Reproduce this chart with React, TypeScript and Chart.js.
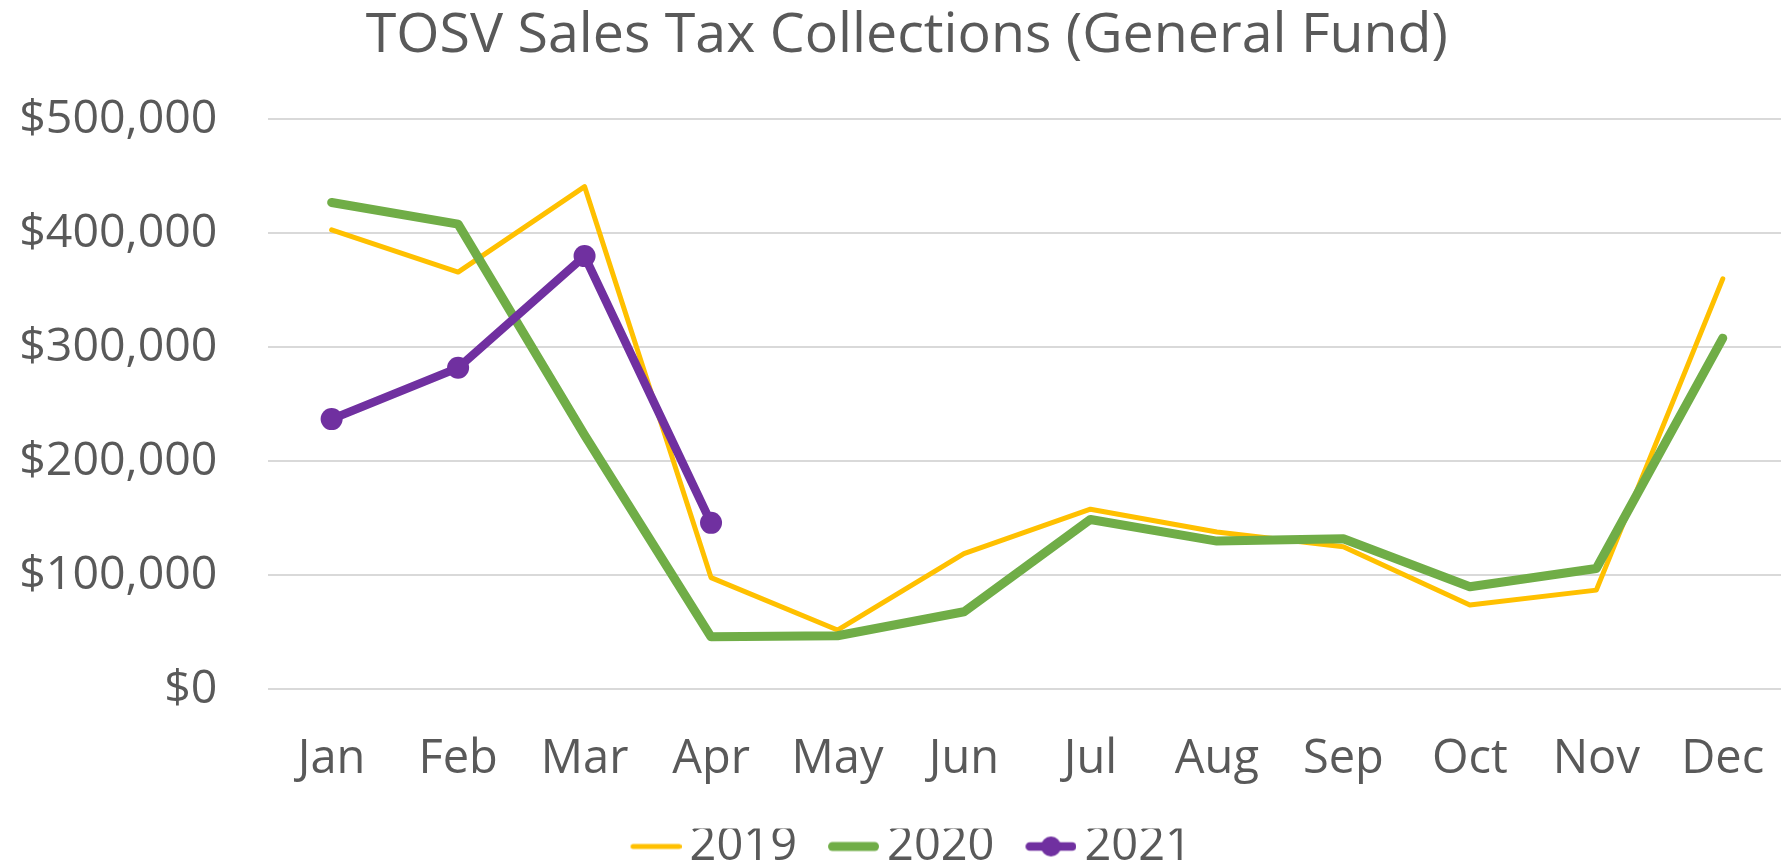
import React, { useEffect, useRef } from "react";
import { Chart, registerables } from "chart.js";

Chart.register(...registerables);

const months = ["Jan", "Feb", "Mar", "Apr", "May", "Jun", "Jul", "Aug", "Sep", "Oct", "Nov", "Dec"];
const seriesNames = ["2019", "2020", "2021"];
const sales2019 = [403000, 366000, 441000, 98000, 52000, 119000, 158000, 138000, 125000, 74000, 87000, 360000];
const sales2020 = [427000, 408000, 223000, 46000, 47000, 68000, 149000, 130000, 132000, 90000, 106000, 308000];
const sales2021 = [237000, 282000, 380000, 146000, null, null, null, null, null, null, null, null];
const yTickValues = [0, 100000, 200000, 300000, 400000, 500000];
const titleText = "TOSV Sales Tax Collections (General Fund)";

const YELLOW = "#FFC000";
const GREEN = "#70AD47";
const PURPLE = "#7030A0";
const TEXT = "#595959";
const FONT = "'Open Sans', sans-serif";

const LEGEND_BOX = 72;

function makeSample(color: string, lw: number, marker: boolean) {
  const c = document.createElement("canvas");
  c.width = 103;
  c.height = 26;
  const ctx = c.getContext("2d")!;
  ctx.strokeStyle = color;
  ctx.lineWidth = lw;
  ctx.lineCap = "round";
  ctx.beginPath();
  ctx.moveTo(52 + lw / 2, 13);
  ctx.lineTo(103 - lw / 2, 13);
  ctx.stroke();
  if (marker) {
    ctx.fillStyle = color;
    ctx.beginPath();
    ctx.arc((52 + 103) / 2, 13, 10, 0, Math.PI * 2);
    ctx.fill();
  }
  return c;
}

export default function App() {
  const ref = useRef<HTMLCanvasElement | null>(null);

  useEffect(() => {
    if (!ref.current) return;
    const samples = [makeSample(YELLOW, 5, false), makeSample(GREEN, 9, false), makeSample(PURPLE, 8.5, true)];
    const chart = new Chart(ref.current, {
      type: "line",
      data: {
        labels: months,
        datasets: [
          {
            label: seriesNames[0],
            data: sales2019,
            borderColor: YELLOW,
            backgroundColor: YELLOW,
            borderWidth: 5,
            pointRadius: 0,
            borderCapStyle: "round",
            borderJoinStyle: "round",
            order: 3,
          },
          {
            label: seriesNames[1],
            data: sales2020,
            borderColor: GREEN,
            backgroundColor: GREEN,
            borderWidth: 9,
            pointRadius: 0,
            borderCapStyle: "round",
            borderJoinStyle: "round",
            order: 2,
          },
          {
            label: seriesNames[2],
            data: sales2021,
            borderColor: PURPLE,
            backgroundColor: PURPLE,
            borderWidth: 8.5,
            pointRadius: 11,
            pointBorderWidth: 0,
            pointBackgroundColor: PURPLE,
            borderCapStyle: "round",
            borderJoinStyle: "round",
            spanGaps: false,
            order: 1,
          },
        ],
      },
      options: {
        responsive: false,
        animation: false,
        devicePixelRatio: 1,
        events: [],
        layout: { autoPadding: false, padding: { left: 0, right: 0, top: 0, bottom: 0 } },
        plugins: {
          tooltip: { enabled: false },
          title: {
            display: true,
            text: "\u2002" + titleText,
            color: TEXT,
            font: { family: FONT, size: 55.5, weight: "normal", lineHeight: 1.2 },
            padding: { top: 3, bottom: 49.7 },
          },
          legend: {
            display: true,
            position: "bottom",
            labels: {
              color: TEXT,
              font: { family: FONT, size: 47 },
              usePointStyle: true,
              pointStyleWidth: LEGEND_BOX,
              padding: -5.5,
              generateLabels: () =>
                seriesNames.map((name, i) => ({
                  text: name,
                  fillStyle: "rgba(0,0,0,0)",
                  strokeStyle: "rgba(0,0,0,0)",
                  lineWidth: 0,
                  pointStyle: samples[i] as any,
                  hidden: false,
                  datasetIndex: i,
                  fontColor: TEXT,
                })),
            },
          },
        },
        scales: {
          x: {
            offset: true,
            grid: { display: false, drawTicks: false },
            border: { display: false },
            ticks: {
              color: TEXT,
              font: { family: FONT, size: 47, lineHeight: 3.0 },
              padding: 0,
              maxRotation: 0,
              autoSkip: false,
            },
            afterFit: (s: any) => {
              s.height = 139.2;
              s.paddingLeft = 0;
              s.paddingRight = 0;
            },
          },
          y: {
            min: 0,
            max: 500000,
            grid: { color: "#D9D9D9", lineWidth: 2, drawTicks: false },
            border: { display: false },
            afterBuildTicks: (s: any) => {
              s.ticks = yTickValues.map((v) => ({ value: v }));
            },
            ticks: {
              color: TEXT,
              font: { family: FONT, size: 46.5 },
              padding: 51,
              callback: (v: any) => "$" + Number(v).toLocaleString("en-US"),
            },
            afterFit: (s: any) => {
              s.width = 268.4;
            },
          },
        },
      },
    });
    return () => chart.destroy();
  }, []);

  return (
    <div
      style={{
        position: "fixed",
        left: 0,
        top: 0,
        width: 1781,
        height: 865,
        overflow: "hidden",
        background: "#ffffff",
      }}
    >
      <canvas ref={ref} width={1786} height={880} style={{ display: "block", width: 1786, height: 880 }} />
    </div>
  );
}
